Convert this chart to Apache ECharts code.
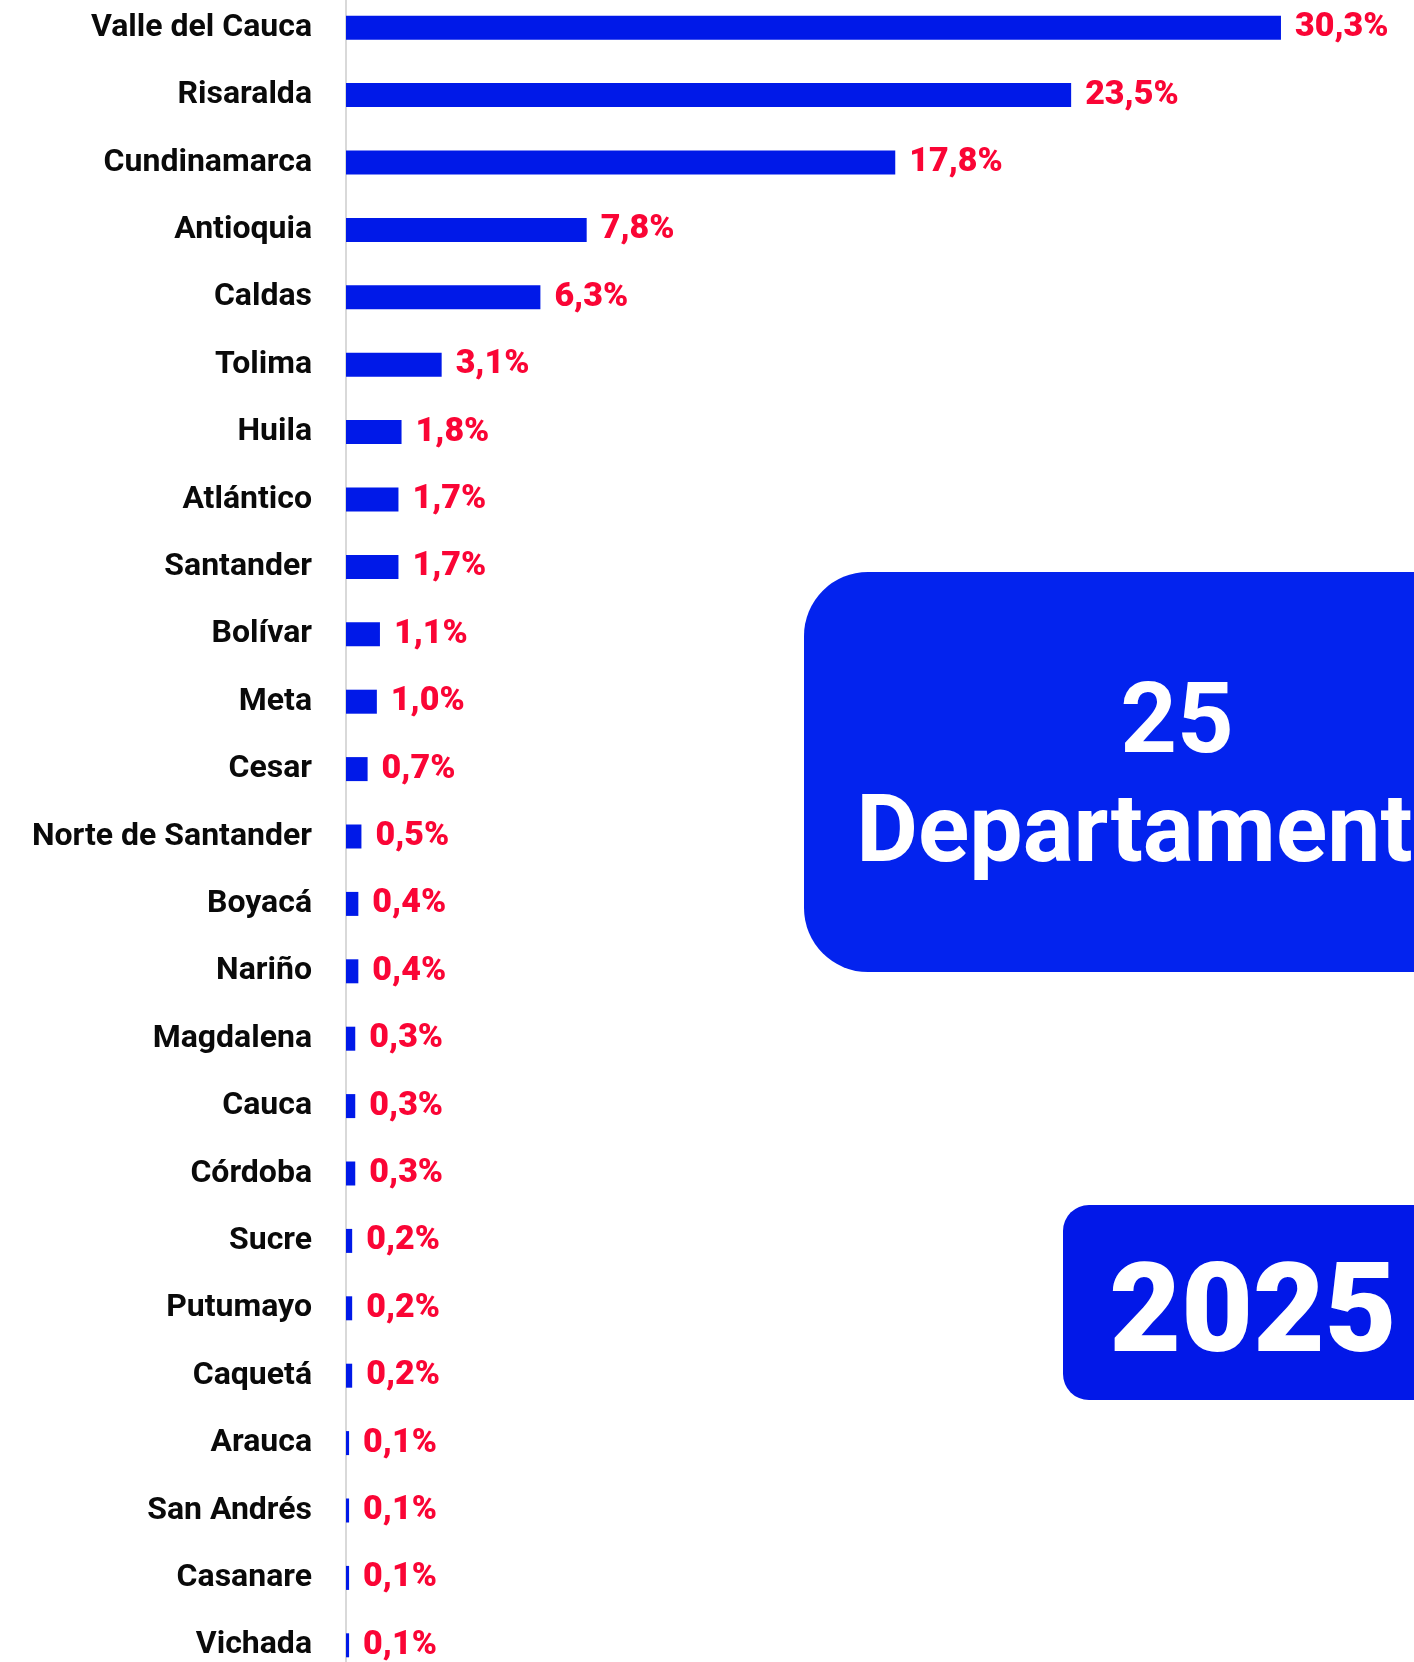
<!DOCTYPE html>
<html lang="es">
<head>
    <meta charset="UTF-8">
    <title>Departamentos 2025</title>
    <script src="https://cdn.jsdelivr.net/npm/echarts@6/dist/echarts.min.js"></script>
    <style>
        *{
            margin: 0;
            padding: 0;
        }
        html,body{
            width: 100%;
            height: 100%;
            background: #fff;
        }
        .main{
            width: 1414px;
            height: 1662px;
        }
    </style>
</head>
<body>
<div class="main"></div>
<script>
    let departamentos = ['Valle del Cauca', 'Risaralda', 'Cundinamarca', 'Antioquia', 'Caldas', 'Tolima',
        'Huila', 'Atlántico', 'Santander', 'Bolívar', 'Meta', 'Cesar', 'Norte de Santander', 'Boyacá',
        'Nariño', 'Magdalena', 'Cauca', 'Córdoba', 'Sucre', 'Putumayo', 'Caquetá', 'Arauca',
        'San Andrés', 'Casanare', 'Vichada'];
    let porcentajes = [30.3, 23.5, 17.8, 7.8, 6.3, 3.1, 1.8, 1.7, 1.7, 1.1, 1.0, 0.7, 0.5, 0.4,
        0.4, 0.3, 0.3, 0.3, 0.2, 0.2, 0.2, 0.1, 0.1, 0.1, 0.1];
    let totalDeptos = '25';
    let anio = '2025';

    let main = echarts.init(document.getElementsByClassName('main')[0]);
    let font = 'Roboto';
    let option = {
        backgroundColor: '#fff',
        animation: false,
        grid: {
            left: 346,
            top: -6,
            width: 1080,
            height: 1685,
            containLabel: false,
            outerBoundsMode: 'none'
        },
        xAxis: {
            type: 'value',
            min: 0,
            max: 35,
            show: false
        },
        yAxis: {
            type: 'category',
            inverse: true,
            data: departamentos,
            axisLine: {
                show: true,
                lineStyle: {color: '#d9d9d9', width: 2}
            },
            axisTick: {show: false},
            axisLabel: {
                margin: 34,
                color: '#0a0a0a',
                fontFamily: font,
                fontWeight: 'bold',
                fontSize: 32
            }
        },
        series: [{
            type: 'bar',
            data: porcentajes,
            barWidth: 24,
            itemStyle: {color: '#0019e8'},
            label: {
                show: true,
                position: 'right',
                distance: 14,
                color: '#fa0535',
                fontFamily: font,
                fontWeight: 900,
                fontSize: 34,
                formatter: function (p) {
                    return p.value.toFixed(1).replace('.', ',') + '%';
                }
            }
        }],
        graphic: [
            {
                type: 'rect',
                z: 100,
                shape: {x: 804, y: 572, width: 800, height: 400, r: 64},
                style: {fill: '#0323ee'}
            },
            {
                type: 'text',
                z: 101,
                x: 1177,
                y: 727,
                style: {
                    text: totalDeptos,
                    fill: '#fff',
                    font: 'bold 99px Roboto',
                    textAlign: 'center',
                    textVerticalAlign: 'middle'
                }
            },
            {
                type: 'text',
                z: 101,
                x: 1185,
                y: 837,
                style: {
                    text: 'Departamentos',
                    fill: '#fff',
                    font: 'bold 95px Roboto',
                    textAlign: 'center',
                    textVerticalAlign: 'middle'
                }
            },
            {
                type: 'rect',
                z: 100,
                shape: {x: 1063, y: 1205, width: 500, height: 195, r: 26},
                style: {fill: '#0218e8'}
            },
            {
                type: 'text',
                z: 101,
                x: 1253,
                y: 1320,
                style: {
                    text: anio,
                    fill: '#fff',
                    font: '900 124px Roboto',
                    textAlign: 'center',
                    textVerticalAlign: 'middle'
                }
            }
        ]
    };
    main.setOption(option);
</script>
</body>
</html>
